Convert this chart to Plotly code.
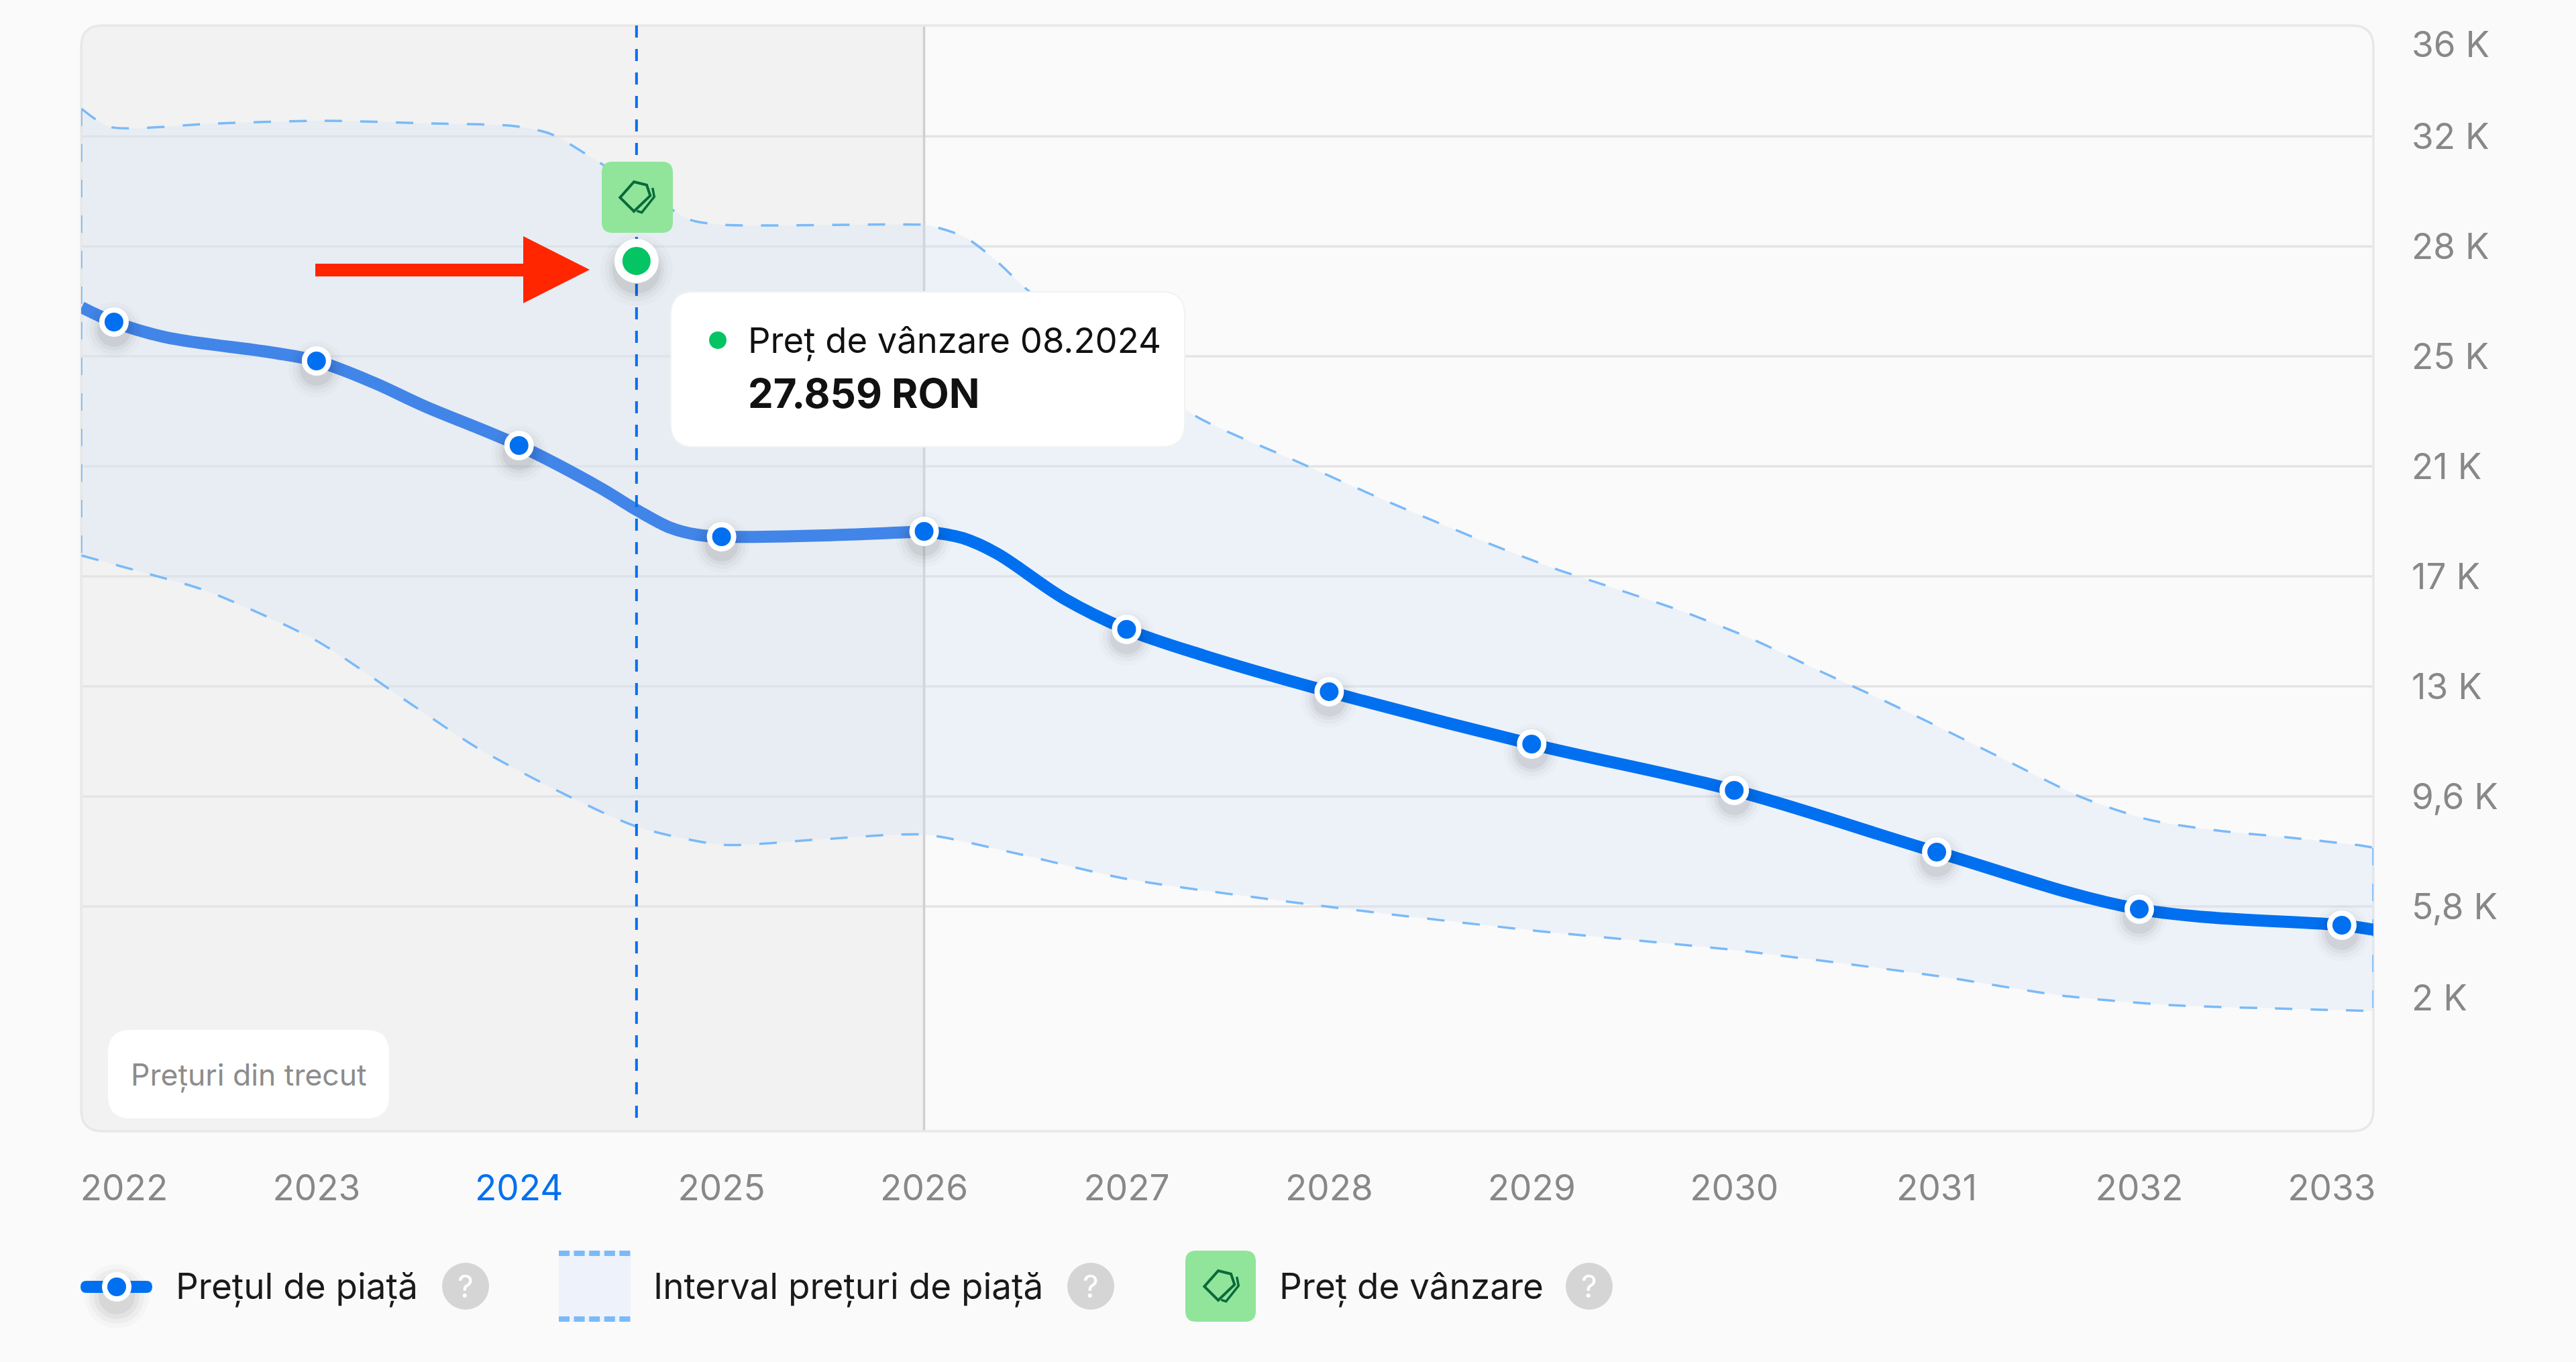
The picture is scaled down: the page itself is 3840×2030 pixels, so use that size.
import plotly.graph_objects as go

FONT = "Inter"
BG = "#FAFAFA"
W, H = 3840, 2030
L, R, T, B = 121, 3538, 38, 1686

years = list(range(2022, 2034))
market_price = [25772, 24442, 21553, 18434, 18618, 15270, 13138, 11349, 9767, 7657, 5708, 5158]

curve_x = [2021.84, 2022.00, 2022.26, 2022.77, 2023.00, 2023.28, 2023.53, 2024.00, 2024.40,
           2024.58, 2024.75, 2024.88, 2025.00, 2025.51, 2026.00, 2026.19, 2026.36, 2026.69, 2027.00,
           2027.38, 2028.00, 2029.00, 2030.00, 2031.00, 2032.00, 2033.00, 2033.165]
curve_y = [26276, 25772, 25245, 24740, 24442, 23708, 22906, 21553, 20108,
           19352, 18733, 18503, 18434, 18480, 18618, 18389, 17861, 16325, 15270,
           14376, 13138, 11349, 9767, 7657, 5708, 5158, 4997]

upper_x = [2021.84, 2021.98, 2022.50, 2023.03, 2023.57, 2023.98, 2024.16, 2024.39, 2024.62, 2024.84, 2025.00,
           2025.99, 2026.05, 2026.20, 2026.35, 2026.51, 2026.90, 2027.34, 2027.82, 2028.30, 2028.78, 2029.11,
           2029.44, 2029.77, 2030.10, 2030.40, 2030.73, 2031.04,
           2031.40, 2031.72, 2032.05, 2032.39, 2032.73, 2033.09, 2033.165]
upper_y = [33064, 32443, 32559, 32651, 32559, 32468, 32192, 31253, 30243, 29280, 29097,
           29097, 29030, 28682, 27904, 26873, 24854, 22562, 21071, 19604, 18228, 17357,
           16600, 15820, 14903, 13917, 12862, 11831,
           10593, 9515, 8758, 8391, 8162, 7886, 7795]
lower_x = [2021.84, 2022.13, 2022.46, 2023.00, 2023.46, 2023.79, 2024.20, 2024.58, 2025.00, 2025.49, 2026.00,
           2026.47, 2027.00, 2028.01, 2028.98, 2030.00, 2031.01, 2031.62, 2032.15, 2032.66, 2033.165]
lower_y = [17793, 17242, 16577, 14881, 12748, 11234, 9721, 8529, 7909, 8093, 8254,
           7588, 6740, 5777, 4997, 4310, 3416, 2750, 2429, 2315, 2223]

sale_x, sale_y = 2024.58, 27859
past_end = 2026

grid_values = [32120, 28360, 24600, 20840, 17080, 13320, 9560, 5800]
ytick_values = [35265, 32120, 28360, 24600, 20840, 17080, 13320, 9560, 5800, 2681]
ytick_labels = ["36 K", "32 K", "28 K", "25 K", "21 K", "17 K", "13 K", "9,6 K", "5,8 K", "2 K"]
xtick_values = [2022.05, 2023, 2024, 2025, 2026, 2027, 2028, 2029, 2030, 2031, 2032, 2032.95]
xtick_labels = ["2022", "2023", '<span style="color:#0070F0">2024</span>', "2025", "2026", "2027", "2028",
                "2029", "2030", "2031", "2032", "2033"]

XMIN, XMAX = 2021.838, 2033.156
YMIN, YMAX = -1882, 35907


def px(x):
    return (x - L) / (R - L)


def py(y):
    return 1 - (y - T) / (B - T)


def rrect(x0, y0, x1, y1, r, corners="tl tr br bl"):
    c = corners.split()
    p = []
    p.append(f"M{px(x0 + (r if 'tl' in c else 0))},{py(y0)}")
    p.append(f"L{px(x1 - (r if 'tr' in c else 0))},{py(y0)}")
    if "tr" in c:
        p.append(f"Q{px(x1)},{py(y0)} {px(x1)},{py(y0 + r)}")
    p.append(f"L{px(x1)},{py(y1 - (r if 'br' in c else 0))}")
    if "br" in c:
        p.append(f"Q{px(x1)},{py(y1)} {px(x1 - r)},{py(y1)}")
    p.append(f"L{px(x0 + (r if 'bl' in c else 0))},{py(y1)}")
    if "bl" in c:
        p.append(f"Q{px(x0)},{py(y1)} {px(x0)},{py(y1 - r)}")
    p.append(f"L{px(x0)},{py(y0 + (r if 'tl' in c else 0))}")
    if "tl" in c:
        p.append(f"Q{px(x0)},{py(y0)} {px(x0 + r)},{py(y0)}")
    return "".join(p) + "Z"


def pshape(path, fill=None, line=None, width=0, layer="above"):
    return dict(type="path", xref="paper", yref="paper", path=path, layer=layer,
                fillcolor=fill or "rgba(0,0,0,0)",
                line=dict(color=line or "rgba(0,0,0,0)", width=width))


def circle(cx, cy, d, fill, layer="above"):
    return dict(type="circle", xref="paper", yref="paper", layer=layer,
                x0=px(cx - d / 2), x1=px(cx + d / 2), y0=py(cy + d / 2), y1=py(cy - d / 2),
                fillcolor=fill, line=dict(width=0))


def poly(pts, cx, cy, closed=False):
    s = "M" + "L".join(f"{px(cx + a)},{py(cy + b)}" for a, b in pts)
    return s + ("Z" if closed else "")


def tag_icon(cx, cy):
    a = [(-4, -23), (15, -18.3), (20.3, -2.3), (-4, 21), (-24.7, 0.3)]
    b = [(23.7, -14), (26.3, -0.7), (7.7, 22.7), (0.3, 20.3)]
    return [pshape(poly(a, cx, cy, True), None, "#0A6A3A", 4),
            pshape(poly(b, cx, cy), None, "#0A6A3A", 3.5)]


def text(x, y, s, size=53, color="#1A1A1A", anchor="left", bold=False):
    return dict(xref="paper", yref="paper", x=px(x), y=py(y), text=f"<b>{s}</b>" if bold else s,
                showarrow=False, xanchor=anchor, yanchor="middle", borderpad=0,
                font=dict(family=FONT, size=size, color=color))


shapes = []
past_frac = (past_end - XMIN) / (XMAX - XMIN)
past_px = L + past_frac * (R - L)
shapes.append(pshape(rrect(L, T, past_px, B, 32, "tl bl"), "#F2F2F2", None, 0, "below"))
for g in grid_values:
    shapes.append(dict(type="line", xref="paper", yref="y", x0=0, x1=1, y0=g, y1=g, layer="below",
                       line=dict(color="#E4E4E4", width=3.5)))
shapes.append(dict(type="line", xref="x", yref="paper", x0=past_end, x1=past_end, y0=0, y1=1, layer="below",
                   line=dict(color="#D0D0D0", width=3.5)))
shapes.append(pshape(rrect(L, T, R, B, 32), None, "#E8E8E8", 3.5, "below"))

# red arrow
shapes.append(pshape(poly([(470, 393), (780, 393), (780, 352), (879, 402), (780, 452), (780, 412), (470, 412)],
                          0, 0, True), "#FF2600"))
# sale badge
shapes.append(pshape(rrect(897, 241, 1003, 347, 16), "#90E59A"))
shapes += tag_icon(949, 294)
# tooltip
shapes.append(pshape(rrect(1000, 435, 1766, 666, 34), "#FFFFFF", "#F2F2F2", 2))
shapes.append(circle(1070, 507, 26, "#04C464"))
# past label
shapes.append(pshape(rrect(161, 1535, 580, 1667, 34), "#FFFFFF"))
# legend
for d, a in [(96, 0.02), (82, 0.03), (68, 0.04), (54, 0.05)]:
    shapes.append(circle(174, 1932, d, f"rgba(0,0,0,{a})"))
shapes.append(pshape(rrect(120, 1909, 227, 1927, 9), "#0070F0"))
shapes.append(circle(174, 1918, 44, "#FFFFFF"))
shapes.append(circle(174, 1918, 28, "#0070F0"))
shapes.append(circle(694, 1917, 70, "#D5D5D5"))
shapes.append(pshape(rrect(833, 1864, 940, 1970, 1, ""), "#EEF2FA"))
for i in range(5):
    x0 = 833 + i * 22.6
    shapes.append(pshape(rrect(x0, 1864, x0 + 16, 1872, 1, ""), "#7ABAF8"))
    shapes.append(pshape(rrect(x0, 1962, x0 + 16, 1970, 1, ""), "#7ABAF8"))
shapes.append(circle(1626, 1917, 70, "#D5D5D5"))
shapes.append(pshape(rrect(1767, 1864, 1872, 1970, 16), "#90E59A"))
shapes += tag_icon(1820, 1917)
shapes.append(circle(2369, 1917, 70, "#D5D5D5"))

annotations = [
    text(1114, 507, "Preț de vânzare 08.2024", 52.6, "#111111"),
    text(1114, 586, "27.859 RON", 60, "#111111", bold=True),
    text(194, 1602, "Prețuri din trecut", 44.5, "#8C8C8C"),
    text(261, 1917, "Prețul de piață", 53),
    text(694, 1917, "?", 46, "#FFFFFF", "center"),
    text(973, 1917, "Interval prețuri de piață", 53),
    text(1626, 1917, "?", 46, "#FFFFFF", "center"),
    text(1906, 1917, "Preț de vânzare", 53),
    text(2369, 1917, "?", 46, "#FFFFFF", "center"),
]

DASH = "26px,27px"
BAND = "#7ABAF8"
BAND_FILL = "rgba(207,224,245,0.30)"
n_past = sum(1 for v in curve_x if v <= past_end)

fig = go.Figure()
fig.add_trace(go.Scatter(x=lower_x, y=lower_y, mode="lines", cliponaxis=False,
                         line=dict(color=BAND, width=3.5, dash=DASH, shape="spline", smoothing=0.7)))
fig.add_trace(go.Scatter(x=upper_x, y=upper_y, mode="lines", fill="tonexty", fillcolor=BAND_FILL, cliponaxis=False,
                         line=dict(color=BAND, width=3.5, dash=DASH, shape="spline", smoothing=0.7)))
fig.add_trace(go.Scatter(x=[XMIN, XMIN], y=[upper_y[0], lower_y[0]], mode="lines", cliponaxis=False,
                         line=dict(color=BAND, width=3.5, dash=DASH)))
fig.add_trace(go.Scatter(x=[XMAX, XMAX], y=[upper_y[-1], lower_y[-1]], mode="lines", cliponaxis=False,
                         line=dict(color=BAND, width=3.5, dash=DASH)))
fig.add_trace(go.Scatter(x=curve_x[:n_past], y=curve_y[:n_past], mode="lines", cliponaxis=False,
                         line=dict(color="#4285E8", width=18, shape="spline", smoothing=1.0)))
fig.add_trace(go.Scatter(x=curve_x[n_past - 1:], y=curve_y[n_past - 1:], mode="lines", cliponaxis=False,
                         line=dict(color="#0070F0", width=18, shape="spline", smoothing=1.0)))
shadow_y = [v - 275 for v in market_price]
for size, alpha in [(84, 0.015), (72, 0.025), (60, 0.035), (50, 0.05)]:
    fig.add_trace(go.Scatter(x=years, y=shadow_y, mode="markers",
                             marker=dict(size=size, color=f"rgba(0,0,0,{alpha})")))
fig.add_trace(go.Scatter(x=years, y=market_price, mode="markers",
                         marker=dict(size=36, color="#0070F0", line=dict(color="#FFFFFF", width=8))))
fig.add_trace(go.Scatter(x=[sale_x, sale_x], y=[YMAX, YMIN + 250], mode="lines",
                         line=dict(color="#0070F0", width=4, dash="18px,17px")))
for size, alpha in [(108, 0.015), (94, 0.025), (82, 0.035), (72, 0.05)]:
    fig.add_trace(go.Scatter(x=[sale_x], y=[sale_y - 300], mode="markers",
                             marker=dict(size=size, color=f"rgba(0,0,0,{alpha})")))
fig.add_trace(go.Scatter(x=[sale_x], y=[sale_y], mode="markers",
                         marker=dict(size=54, color="#04C464", line=dict(color="#FFFFFF", width=12))))

fig.update_layout(
    width=W, height=H, showlegend=False, hovermode=False,
    paper_bgcolor=BG, plot_bgcolor="rgba(0,0,0,0)",
    margin=dict(l=L, r=W - R, t=T, b=H - B, pad=0),
    font=dict(family=FONT, size=53, color="#888888"),
    xaxis=dict(range=[XMIN, XMAX], tickmode="array", tickvals=xtick_values, ticktext=xtick_labels,
               showgrid=False, zeroline=False, showline=False, ticks="", ticklabelstandoff=49,
               tickangle=0, tickfont=dict(family=FONT, size=53, color="#888888")),
    yaxis=dict(range=[YMIN, YMAX], side="right", tickmode="array", tickvals=ytick_values, ticktext=ytick_labels,
               showgrid=False, zeroline=False, showline=False, ticks="", ticklabelstandoff=56,
               tickfont=dict(family=FONT, size=53, color="#888888")),
    shapes=shapes, annotations=annotations,
)

fig.write_html("out.html", config={"displayModeBar": False},
               post_script="document.body.style.margin='0';document.body.style.background='#FAFAFA';document.body.style.overflow='hidden';")
